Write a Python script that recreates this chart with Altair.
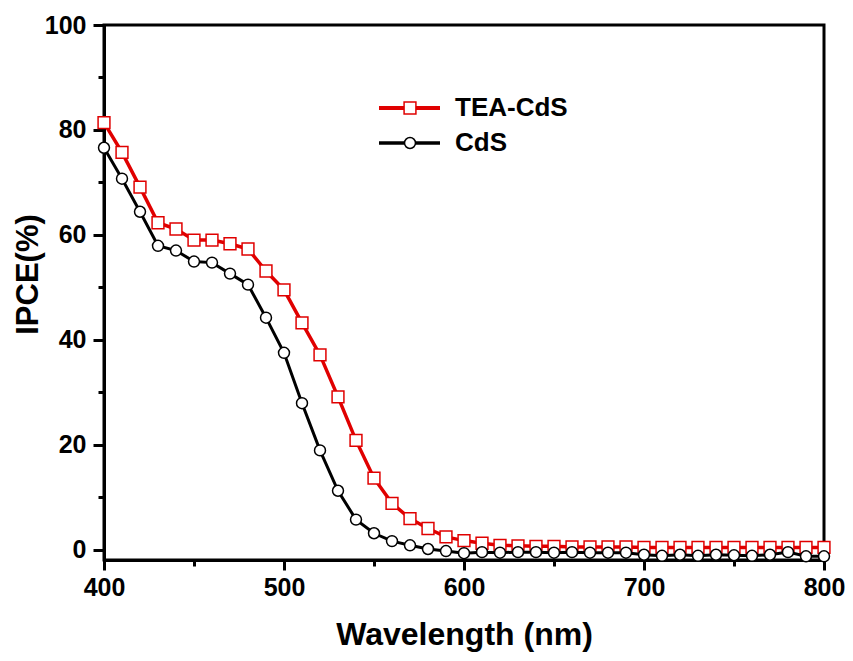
import altair as alt
import pandas as pd

wavelength = [400, 410, 420, 430, 440, 450, 460, 470, 480, 490,
              500, 510, 520, 530, 540, 550, 560, 570, 580, 590,
              600, 610, 620, 630, 640, 650, 660, 670, 680, 690,
              700, 710, 720, 730, 740, 750, 760, 770, 780, 790, 800]

tea_cds = [81.4, 75.7, 69.1, 62.3, 61.1, 59.0, 59.0, 58.3, 57.3, 53.1,
           49.5, 43.2, 37.1, 29.1, 20.8, 13.6, 8.8, 5.9, 4.0, 2.4,
           1.7, 1.2, 0.8, 0.7, 0.6, 0.6, 0.5, 0.5, 0.5, 0.5,
           0.4, 0.4, 0.4, 0.4, 0.4, 0.4, 0.4, 0.4, 0.4, 0.4, 0.4]

cds = [76.6, 70.7, 64.4, 57.9, 57.0, 54.9, 54.7, 52.6, 50.5, 44.2,
       37.5, 27.9, 18.9, 11.2, 5.7, 3.1, 1.6, 0.8, 0.1, -0.3,
       -0.7, -0.5, -0.6, -0.5, -0.5, -0.6, -0.5, -0.6, -0.6, -0.6,
       -1.0, -1.2, -1.0, -1.2, -1.0, -1.1, -1.2, -1.0, -0.5, -1.3, -1.3]

series_names = ["TEA-CdS", "CdS"]
series_colors = ["#e00000", "#000000"]

x_ticks = [400, 450, 500, 550, 600, 650, 700, 750, 800]
y_ticks = [0, 10, 20, 30, 40, 50, 60, 70, 80, 90, 100]

df_tea = pd.DataFrame({"wl": wavelength, "ipce": tea_cds})
df_cds = pd.DataFrame({"wl": wavelength, "ipce": cds})

FONT = "Liberation Sans"

x_scale = alt.Scale(domain=[400, 800], nice=False, zero=False)
y_scale = alt.Scale(domain=[-2, 100], nice=False, zero=False)

x_axis = alt.Axis(
    title="Wavelength (nm)", values=x_ticks, grid=False,
    labelExpr="datum.value % 100 === 0 ? datum.label : ''",
    tickSize={"condition": {"test": "datum.value % 100 !== 0", "value": 6}, "value": 10},
    tickWidth=3, tickColor="black", domainWidth=3, domainColor="black",
    labelFont=FONT, labelFontSize=25, labelFontWeight="bold", labelColor="black",
    labelPadding=5, labelFlush=False,
    titleFont=FONT, titleFontSize=32, titleFontWeight="bold", titleColor="black",
    titleY=84, titleBaseline="alphabetic",
)
y_axis = alt.Axis(
    title="IPCE(%)", values=y_ticks, grid=False,
    labelExpr="datum.value % 20 === 0 ? datum.label : ''",
    tickSize={"condition": {"test": "datum.value % 20 !== 0", "value": 6}, "value": 11},
    tickWidth=3, tickColor="black", domainWidth=3, domainColor="black",
    labelFont=FONT, labelFontSize=25, labelFontWeight="bold", labelColor="black",
    labelPadding=7, labelFlush=False,
    titleFont=FONT, titleFontSize=31, titleFontWeight="bold", titleColor="black",
    titleX=-67, titleY=249, titleBaseline="alphabetic", titleAngle=-90,
)

base_tea = alt.Chart(df_tea).encode(
    x=alt.X("wl:Q", scale=x_scale, axis=x_axis),
    y=alt.Y("ipce:Q", scale=y_scale, axis=y_axis),
)
base_cds = alt.Chart(df_cds).encode(
    x=alt.X("wl:Q", scale=x_scale, axis=x_axis),
    y=alt.Y("ipce:Q", scale=y_scale, axis=y_axis),
)

tea_line = base_tea.mark_line(color=series_colors[0], strokeWidth=3.5)
tea_pts = base_tea.mark_point(shape="square", size=140, filled=False, fill="white",
                              fillOpacity=1, stroke=series_colors[0], strokeWidth=1.5, opacity=1)
cds_line = base_cds.mark_line(color=series_colors[1], strokeWidth=3)
cds_pts = base_cds.mark_point(shape="circle", size=120, filled=False, fill="white",
                              fillOpacity=1, stroke=series_colors[1], strokeWidth=1.5, opacity=1)

# legend (decoration)
one = pd.DataFrame({"k": [0]})
leg_y = [83, 118]
leg_shapes = ["square", "circle"]
leg_sizes = [140, 120]
leg_layers = []
for i in range(2):
    leg_layers.append(alt.Chart(one).mark_rule(color=series_colors[i], strokeWidth=4 if i == 0 else 3.5).encode(
        x=alt.value(275), x2=alt.value(336), y=alt.value(leg_y[i])))
    leg_layers.append(alt.Chart(one).mark_point(shape=leg_shapes[i], size=leg_sizes[i], filled=False,
                                                fill="white", fillOpacity=1, stroke=series_colors[i],
                                                strokeWidth=1.5, opacity=1).encode(
        x=alt.value(306), y=alt.value(leg_y[i])))
    leg_layers.append(alt.Chart(one).mark_text(text=series_names[i], font=FONT, fontSize=26,
                                               fontWeight="bold", color="black", align="left",
                                               baseline="middle").encode(
        x=alt.value(351), y=alt.value(leg_y[i])))

chart = alt.layer(tea_line, tea_pts, cds_line, cds_pts, *leg_layers).properties(
    width=720, height=535,
    autosize=alt.AutoSizeParams(type="none"),
    padding={"left": 96, "top": 17, "right": 21, "bottom": 92},
    background="white",
).configure_view(stroke="black", strokeWidth=3)

chart.save("out.html", embed_options={"renderer": "svg", "actions": False})
